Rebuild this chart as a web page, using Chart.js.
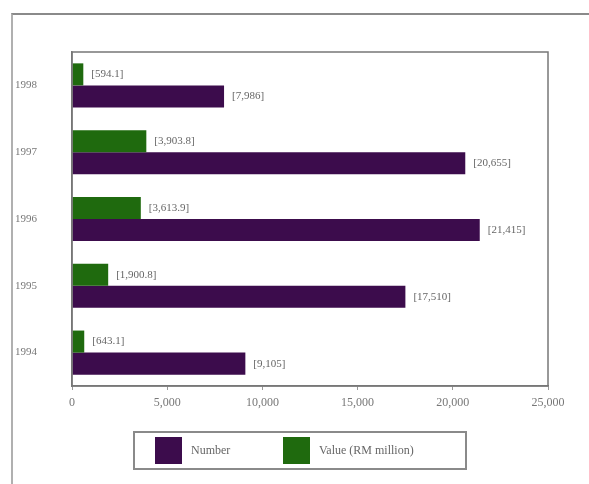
<!DOCTYPE html>
<html>
<head>
<meta charset="utf-8">
<script src="https://cdn.jsdelivr.net/npm/chart.js@4/dist/chart.umd.min.js"></script>
<style>
  html, body { margin: 0; padding: 0; background: #fff; }
  #wrap { position: relative; width: 589px; height: 484px; }
  #frame { position: absolute; left: 11px; top: 13px; right: 0; bottom: 0; border-top: 2px solid #8a8a8a; border-left: 2px solid #b0b0b0; }
  #chart { position: absolute; left: 0; top: 0; }
  #legend { position: absolute; left: 133px; top: 431px; width: 330px; height: 35px; border: 2px solid #8a8a8a; box-sizing: content-box;
            font-family: "Liberation Serif", "DejaVu Serif", serif; font-size: 12px; color: #666; }
  .item { position: absolute; top: 4px; height: 27px; line-height: 27px; }
  .sw { display: inline-block; width: 27px; height: 27px; vertical-align: top; margin-right: 9px; }
</style>
</head>
<body>
<div id="wrap">
  <div id="frame"></div>
  <canvas id="chart" width="589" height="484"></canvas>
  <div id="legend">
    <div class="item" style="left:20px"><span class="sw" style="background:#3c0c4c"></span>Number</div>
    <div class="item" style="left:148px"><span class="sw" style="background:#1f6a0e"></span>Value (RM million)</div>
  </div>
</div>
<script>
'use strict';
const years = ['1998', '1997', '1996', '1995', '1994'];
const numberVals = [7986, 20655, 21415, 17510, 9105];
const valueVals = [594.1, 3903.8, 3613.9, 1900.8, 643.1];
const xTicks = [0, 5000, 10000, 15000, 20000, 25000];

const serif = '"Liberation Serif", "DejaVu Serif", serif';

// plot box + bracketed labels at the bar ends
const boxAndLabels = {
  id: 'boxAndLabels',
  afterDatasetsDraw(chart) {
    const ctx = chart.ctx;
    const a = chart.chartArea;
    ctx.save();
    ctx.strokeStyle = '#777';
    ctx.lineWidth = 1.5;
    ctx.strokeRect(a.left, a.top, a.right - a.left, a.bottom - a.top);

    ctx.font = '11px ' + serif;
    ctx.fillStyle = '#666';
    ctx.textBaseline = 'middle';
    ctx.textAlign = 'left';
    chart.data.datasets.forEach((ds, i) => {
      const meta = chart.getDatasetMeta(i);
      meta.data.forEach((bar, j) => {
        const v = ds.data[j];
        let txt;
        if (ds.decimals) {
          txt = v.toLocaleString('en-US', { minimumFractionDigits: 1, maximumFractionDigits: 1 });
        } else {
          txt = v.toLocaleString('en-US');
        }
        ctx.fillText('[' + txt + ']', bar.x + 8, bar.y);
      });
    });
    ctx.restore();
  }
};

new Chart(document.getElementById('chart'), {
  type: 'bar',
  data: {
    labels: years,
    datasets: [
      {
        label: 'Value (RM million)',
        data: valueVals,
        decimals: true,
        backgroundColor: '#1f6a0e',
        categoryPercentage: 0.66,
        barPercentage: 1.0
      },
      {
        label: 'Number',
        data: numberVals,
        backgroundColor: '#3c0c4c',
        categoryPercentage: 0.66,
        barPercentage: 1.0
      }
    ]
  },
  options: {
    indexAxis: 'y',
    responsive: false,
    animation: false,
    layout: { padding: { top: 52, right: 41, bottom: 68, left: 0 } },
    plugins: {
      legend: { display: false },
      tooltip: { enabled: false }
    },
    scales: {
      x: {
        min: 0,
        max: 25000,
        afterBuildTicks(axis) {
          axis.ticks = xTicks.map(v => ({ value: v }));
        },
        afterFit(axis) { axis.height = 30; },
        grid: { drawOnChartArea: false, drawTicks: true, tickLength: 4, color: '#999' },
        border: { color: '#777', width: 1.5 },
        ticks: {
          color: '#777',
          padding: 6,
          font: { family: serif, size: 12 },
          callback: v => v.toLocaleString('en-US')
        }
      },
      y: {
        afterFit(axis) { axis.width = 72; },
        grid: { display: false },
        border: { color: '#777', width: 1.5 },
        ticks: {
          color: '#777',
          padding: 27,
          font: { family: serif, size: 11 }
        }
      }
    }
  },
  plugins: [boxAndLabels]
});
</script>
</body>
</html>
